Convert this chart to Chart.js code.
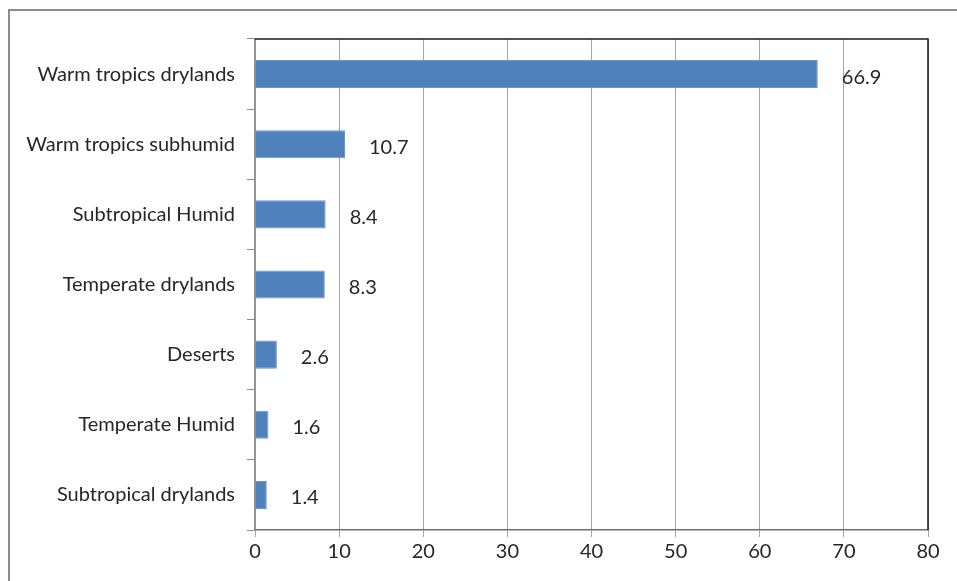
<!DOCTYPE html>
<html>
<head>
<meta charset="utf-8">
<script src="https://cdn.jsdelivr.net/npm/chart.js@4"></script>
<style>
  html, body { margin: 0; padding: 0; background: #fff; overflow: hidden; }
  #frame { position: absolute; left: 8px; top: 9px; width: 1000px; height: 700px;
           border: 2px solid #8c8c8c; box-sizing: border-box; }
  #wrap { position: absolute; left: 0; top: 0; width: 957px; height: 581px; }
</style>
</head>
<body>
<div id="frame"></div>
<div id="wrap"><canvas id="myChart"></canvas></div>
<script>
const categories = [
  'Warm tropics drylands',
  'Warm tropics subhumid',
  'Subtropical Humid',
  'Temperate drylands',
  'Deserts',
  'Temperate Humid',
  'Subtropical drylands'
];
const values = [66.9, 10.7, 8.4, 8.3, 2.6, 1.6, 1.4];
const xTicks = [0, 10, 20, 30, 40, 50, 60, 70, 80];

const fontFamily = 'Lato, "Open Sans", sans-serif';
const fontSize = 20;
const textColor = '#262626';

// value labels just right of each bar end, like Excel "outside end"
const barLabels = {
  id: 'barLabels',
  afterDatasetsDraw(chart) {
    const ctx = chart.ctx;
    const meta = chart.getDatasetMeta(0);
    ctx.save();
    ctx.font = fontSize + 'px ' + fontFamily;
    ctx.fillStyle = textColor;
    ctx.textAlign = 'left';
    ctx.textBaseline = 'middle';
    meta.data.forEach((bar, i) => {
      ctx.fillText(values[i].toFixed(1), bar.x + 24, bar.y + 3);
    });
    ctx.restore();
  }
};

// black border on top and right of the plot area
const plotBorder = {
  id: 'plotBorder',
  afterDraw(chart) {
    const a = chart.chartArea;
    const ctx = chart.ctx;
    ctx.save();
    ctx.strokeStyle = '#1a1a1a';
    ctx.lineWidth = 1.5;
    ctx.beginPath();
    ctx.moveTo(a.left, a.top);
    ctx.lineTo(a.right, a.top);
    ctx.lineTo(a.right, a.bottom);
    ctx.stroke();
    ctx.restore();
  }
};

const data = {
  labels: categories,
  datasets: [
    {
      data: values,
      backgroundColor: '#4F81BD',
      borderColor: '#6d95c8',
      borderWidth: 1,
      barPercentage: 0.4,
      categoryPercentage: 1.0
    }
  ]
};

const config = {
  type: 'bar',
  data: data,
  options: {
    indexAxis: 'y',
    responsive: true,
    maintainAspectRatio: false,
    animation: false,
    layout: { padding: { left: 0, top: 39, right: 29, bottom: 0 } },
    plugins: {
      legend: { display: false },
      tooltip: { enabled: false }
    },
    scales: {
      x: {
        min: 0,
        max: 80,
        afterBuildTicks: (scale) => { scale.ticks = xTicks.map(v => ({ value: v })); },
        afterFit: (scale) => { scale.height = 51; },
        grid: { color: '#a6a6a6', lineWidth: 1, tickLength: 7, drawTicks: true },
        border: { color: '#6e6e6e', width: 1.5 },
        ticks: { color: textColor, font: { family: fontFamily, size: fontSize }, padding: 3 }
      },
      y: {
        afterFit: (scale) => { scale.width = 255; },
        grid: { drawOnChartArea: false, drawTicks: true, tickLength: 8, color: '#8c8c8c', offset: true },
        border: { color: '#8c8c8c', width: 1.5 },
        ticks: { color: textColor, font: { family: fontFamily, size: fontSize }, padding: 12 }
      }
    }
  },
  plugins: [barLabels, plotBorder]
};

const myChart = new Chart(document.getElementById('myChart'), config);
</script>
</body>
</html>
